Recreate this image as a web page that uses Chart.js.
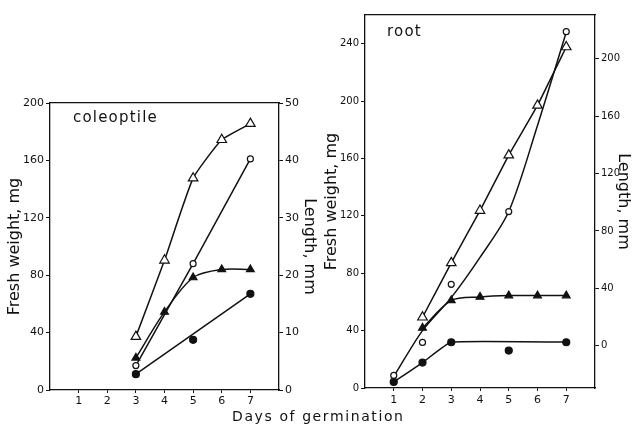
<!DOCTYPE html>
<html>
<head>
<meta charset="utf-8">
<script src="https://cdn.jsdelivr.net/npm/chart.js@4.4.1/dist/chart.umd.min.js"></script>
<style>
  body { margin: 0; background: #fff; }
  #wrap { position: relative; width: 633px; height: 426px; font-family: "DejaVu Sans", sans-serif; color: #111; }
  canvas { position: absolute; top: 0; }
  .lbl { position: absolute; font-size: 15px; line-height: 15px; letter-spacing: 1.2px; white-space: nowrap; }
</style>
</head>
<body>
<div id="wrap">
  <canvas id="coleChart" width="320" height="426" style="left:0"></canvas>
  <canvas id="rootChart" width="313" height="426" style="left:320px"></canvas>
  <div class="lbl" style="left:73px;top:110px">coleoptile</div>
  <div class="lbl" style="left:387px;top:24px">root</div>
  <div class="lbl" style="left:232px;top:409px;font-size:14px;letter-spacing:1.6px">Days of germination</div>
</div>
<script>
// ---- tick values ----
const dayTicks = [1, 2, 3, 4, 5, 6, 7];
const coleWeightTicks = [0, 40, 80, 120, 160, 200];
const coleLengthTicks = [0, 10, 20, 30, 40, 50];
const rootWeightTicks = [0, 40, 80, 120, 160, 200, 240];
const rootLengthTicks = [0, 40, 80, 120, 160, 200];

// ---- coleoptile ----
const coleDaysTri = [3, 4, 5, 6, 7];
const coleLengthOpen = [9.3, 22.6, 36.9, 43.6, 46.4];    // open triangles, mm
const coleLengthFilled = [5.6, 13.6, 19.6, 21.0, 21.0];  // filled triangles, mm
const coleDaysCirc = [3, 5, 7];
const coleWeightOpen = [17, 88, 161];                     // open circles, mg
const coleWeightFilled = [11, 35, 67];                    // filled circles, mg
const coleFilledFitDays = [3, 7];                         // drawn line for filled circles
const coleFilledFit = [11, 67];

// ---- root ----
const rootDaysTri = [2, 3, 4, 5, 6, 7];
const rootLengthOpen = [19.8, 57.7, 94.2, 132.8, 167.5, 208.2];
const rootLengthFilled = [12.4, 31.6, 34.0, 34.9, 34.9, 34.9];
const rootDaysCirc = [1, 2, 3, 5, 7];
const rootWeightOpen = [8.8, 31.8, 72.3, 123, 248.4];
const rootWeightFilled = [4.2, 17.7, 31.9, 26.1, 31.9];
const rootOpenFitDays = [1, 2, 3, 4, 5, 6, 7];
const rootOpenFit = [8, 40, 63, 91, 123, 183, 248];
const rootFilledFitDays = [1, 2, 3, 7];
const rootFilledFit = [4.2, 17.7, 32, 32];

const INK = '#111';
const TICK_FONT = { family: '"DejaVu Sans", sans-serif', size: 11 };
const SMALL_TICK_FONT = { family: '"DejaVu Sans", sans-serif', size: 10 };
const TITLE_FONT = { family: '"DejaVu Sans", sans-serif', size: 16 };

function pts(xs, ys) {
  return xs.map((x, i) => ({ x, y: ys[i] }));
}

// marker series (optionally joined by a line)
function markers(xs, ys, axis, style, radius, filled, joined, tension) {
  return {
    data: pts(xs, ys),
    yAxisID: axis,
    showLine: joined,
    tension: tension || 0,
    borderColor: INK,
    borderWidth: 1.5,
    pointStyle: style,
    pointRadius: radius,
    pointBorderWidth: 1.2,
    pointBorderColor: INK,
    pointBackgroundColor: filled ? INK : '#fff',
  };
}

// hand-drawn curve without markers
function curve(xs, ys, axis, tension) {
  return {
    data: pts(xs, ys),
    yAxisID: axis,
    showLine: true,
    tension: tension || 0,
    borderColor: INK,
    borderWidth: 1.5,
    pointRadius: 0,
  };
}

function yAxis(position, min, max, ticks, title, width, titlePad, font) {
  return {
    type: 'linear', position, min, max,
    afterBuildTicks: s => { s.ticks = ticks.map(v => ({ value: v })); },
    afterFit: s => { s.width = width; },
    grid: { drawOnChartArea: false, tickLength: 4, color: INK, lineWidth: 1 },
    border: { color: INK, width: 1.3 },
    ticks: { color: INK, font: font || TICK_FONT, padding: 2 },
    title: { display: true, text: title, color: INK, font: TITLE_FONT, padding: { top: titlePad, bottom: 0 } }
  };
}

function xAxes(height, labelPad) {
  return {
    x: {
      type: 'linear', position: 'bottom', min: 0, max: 8,
      afterBuildTicks: s => { s.ticks = dayTicks.map(v => ({ value: v })); },
      afterFit: s => { s.height = height; },
      grid: { drawOnChartArea: false, tickLength: 3, color: INK, lineWidth: 1 },
      border: { color: INK, width: 1.3 },
      ticks: { color: INK, font: TICK_FONT, padding: labelPad, maxRotation: 0 }
    },
    xTop: {
      type: 'linear', position: 'top', min: 0, max: 8,
      afterFit: s => { s.height = 0; },
      grid: { display: false },
      border: { color: INK, width: 1.3 },
      ticks: { display: false }
    }
  };
}

function baseOptions(padTop, scales) {
  return {
    responsive: false,
    animation: false,
    layout: { padding: { top: padTop, left: 0, right: 0, bottom: 0 } },
    plugins: { legend: { display: false }, tooltip: { enabled: false } },
    scales
  };
}

new Chart(document.getElementById('coleChart'), {
  type: 'scatter',
  data: {
    datasets: [
      markers(coleDaysTri, coleLengthOpen, 'y1', 'triangle', 5.5, false, true, 0.15),
      markers(coleDaysCirc, coleWeightOpen, 'y', 'circle', 3, false, true, 0),
      markers(coleDaysTri, coleLengthFilled, 'y1', 'triangle', 4.5, true, true, 0.3),
      markers(coleDaysCirc, coleWeightFilled, 'y', 'circle', 3.5, true, false),
      curve(coleFilledFitDays, coleFilledFit, 'y', 0),
    ]
  },
  options: baseOptions(103, Object.assign(xAxes(36, 2), {
    y: yAxis('left', 0, 200, coleWeightTicks, 'Fresh weight, mg', 50, 5),
    y1: yAxis('right', 0, 50, coleLengthTicks, 'Length, mm', 41, 1.5),
  }))
});

new Chart(document.getElementById('rootChart'), {
  type: 'scatter',
  data: {
    datasets: [
      markers(rootDaysTri, rootLengthOpen, 'y1', 'triangle', 5.5, false, true, 0.1),
      markers(rootDaysCirc, rootWeightOpen, 'y', 'circle', 3, false, false),
      markers(rootDaysTri, rootLengthFilled, 'y1', 'triangle', 4.5, true, true, 0.3),
      markers(rootDaysCirc, rootWeightFilled, 'y', 'circle', 3.5, true, false),
      curve(rootOpenFitDays, rootOpenFit, 'y', 0.3),
      curve(rootFilledFitDays, rootFilledFit, 'y', 0.1),
    ]
  },
  options: baseOptions(15, Object.assign(xAxes(38, 3), {
    y: yAxis('left', 0, 260, rootWeightTicks, 'Fresh weight, mg', 45, 2, SMALL_TICK_FONT),
    y1: yAxis('right', -29.5, 230.5, rootLengthTicks, 'Length, mm', 38, 0, SMALL_TICK_FONT),
  }))
});
</script>
</body>
</html>
